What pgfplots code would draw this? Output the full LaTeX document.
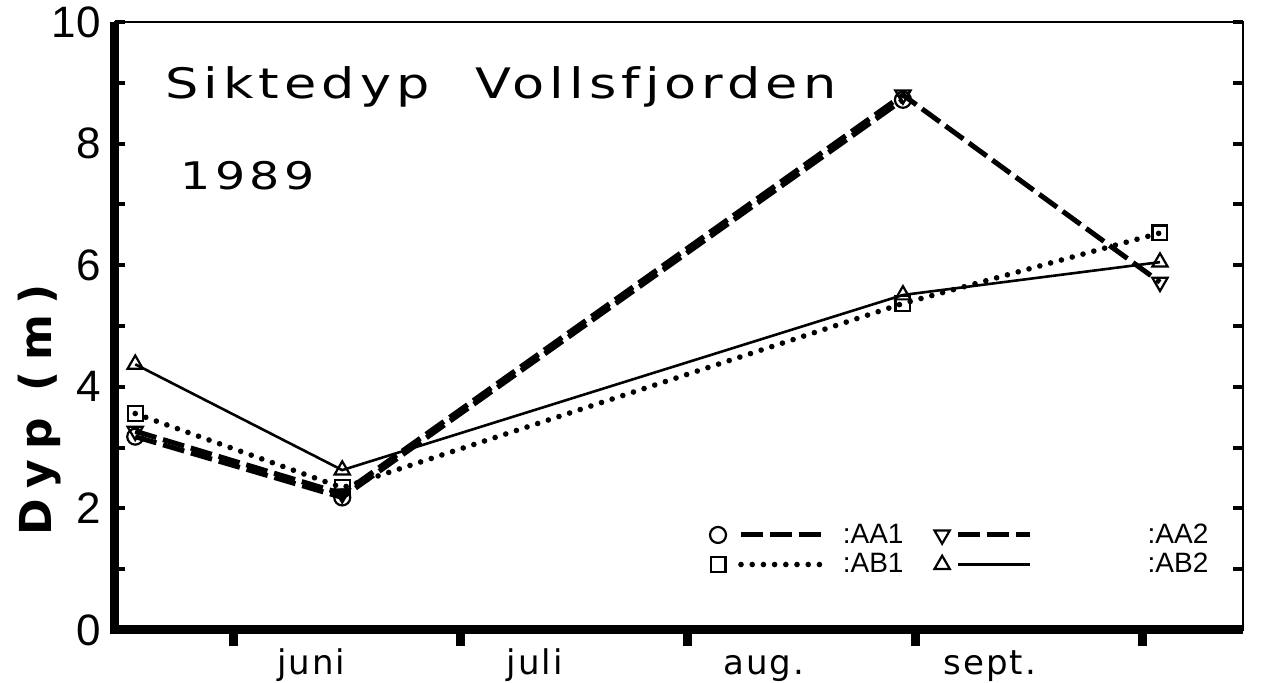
\documentclass[border=0pt]{standalone}
\usepackage{fontspec}
\setmainfont{Liberation Sans}
\newfontfamily\titlefont[FakeStretch=1.25,LetterSpace=12]{DejaVu Sans}
\newfontfamily\monthfont[LetterSpace=6]{DejaVu Sans}
\newfontfamily\ylabfont[LetterSpace=24]{DejaVu Sans}
\usepackage{pgfplots}
\pgfplotsset{compat=1.18}
\pgfplotsset{
  longimg/.style={legend image code/.code={\draw[##1] plot coordinates {(0pt,0pt)}; \draw[##1,mark=none] (11.5pt,0pt) -- (51.5pt,0pt);}},
  shortimg/.style={legend image code/.code={\draw[##1] plot coordinates {(0pt,0pt)}; \draw[##1,mark=none] (8pt,0pt) -- (44pt,0pt);}},
}
\begin{document}
\begin{tikzpicture}
\begin{axis}[
  scale only axis, width=564pt, height=304pt,
  xmin=0.481, xmax=5.44, ymin=0, ymax=10,
  clip=false,
  axis line style={line width=1pt},
  xtick=\empty,
  xtick pos=left,
  extra x ticks={1,2,3,4,5},
  extra x tick labels={},
  extra x tick style={tick align=outside, major tick length=8pt, tick style={line width=4.5pt, black}},
  ytick={0,2,4,6,8,10},
  minor ytick={1,3,5,7,9},
  tick align=inside,
  major tick length=5pt, minor tick length=5pt,
  y tick style={line width=2pt, black},
  /pgf/number format/assume math mode=true,
  yticklabel style={font=\fontsize{22}{25}\selectfont, xshift=-3.5pt},
  legend columns=2,
  legend cell align=left,
  legend style={draw=none, fill=none, inner sep=0pt, outer sep=0pt,
    at={(rel axis cs:0.5275,0.132)}, anchor=west,
    font=\fontsize{14}{16}\selectfont,
    nodes={inner sep=0.5pt},
    row sep=2.5pt,
    /tikz/every odd column/.style={column sep=9pt},
    /tikz/every even column/.style={column sep=15pt}},
  longimg,
]
\draw[line width=4.5pt, line join=miter] (rel axis cs:0,1) -- (rel axis cs:0,0) -- (rel axis cs:1,0);

\addplot[black, line width=2.5pt, dash pattern=on 11pt off 3.5pt, mark=o, mark size=4pt, mark options={solid, line width=1.1pt, fill=white}]
  coordinates {(0.57,3.18) (1.48,2.18) (3.945,8.72)};
\addlegendentry{:AA1}
\addplot[black, line width=2.5pt, dash pattern=on 11pt off 3.5pt, mark=triangle, mark size=4.4pt, mark options={solid, line width=1.1pt, fill=white, rotate=180}, shortimg]
  coordinates {(0.57,3.27) (1.48,2.24) (3.945,8.8) (5.075,5.72)};
\addlegendentry{\hspace{48pt}:AA2}
\addplot[black, line width=2.8pt, line cap=round, dash pattern=on 0pt off 5.6pt, mark=square, mark size=3.7pt, mark options={solid, line width=1.1pt, fill=white}]
  coordinates {(0.57,3.56) (1.48,2.34) (3.945,5.37) (5.075,6.53)};
\addlegendentry{:AB1}
\addplot[black, line width=1.3pt, mark=triangle, mark size=4.4pt, mark options={solid, line width=1.1pt, fill=white}, shortimg]
  coordinates {(0.57,4.37) (1.48,2.63) (3.945,5.51) (5.075,6.05)};
\addlegendentry{\hspace{48pt}:AB2}

\node[anchor=west, inner sep=0pt, font=\titlefont\fontsize{21}{24}\selectfont] at (rel axis cs:0.0443,0.893) {Siktedyp\hspace{1.1em}Vollsfjorden};
\node[anchor=west, inner sep=0pt, font=\titlefont\fontsize{19}{22}\selectfont] at (rel axis cs:0.0576,0.748) {1989};
\node[rotate=90, font=\ylabfont\bfseries\fontsize{22}{26}\selectfont] at (rel axis cs:-0.0665,0.362) {Dyp (m)};
\node[anchor=base, font=\monthfont\fontsize{17}{20}\selectfont] at ([yshift=-22.5pt]axis cs:1.343,0) {juni};
\node[anchor=base, font=\monthfont\fontsize{17}{20}\selectfont] at ([yshift=-22.5pt]axis cs:2.327,0) {juli};
\node[anchor=base, font=\monthfont\fontsize{17}{20}\selectfont] at ([yshift=-22.5pt]axis cs:3.334,0) {aug.};
\node[anchor=base, font=\monthfont\fontsize{17}{20}\selectfont] at ([yshift=-22.5pt]axis cs:4.327,0) {sept.};
\coordinate (SW) at (rel axis cs:0,0);
\coordinate (NE) at (rel axis cs:1,1);
\end{axis}
\pgfresetboundingbox
\path[use as bounding box] ([shift={(-57.5pt,-26.5pt)}]SW) rectangle ([shift={(12.5pt,11pt)}]NE);
\end{tikzpicture}
\end{document}
